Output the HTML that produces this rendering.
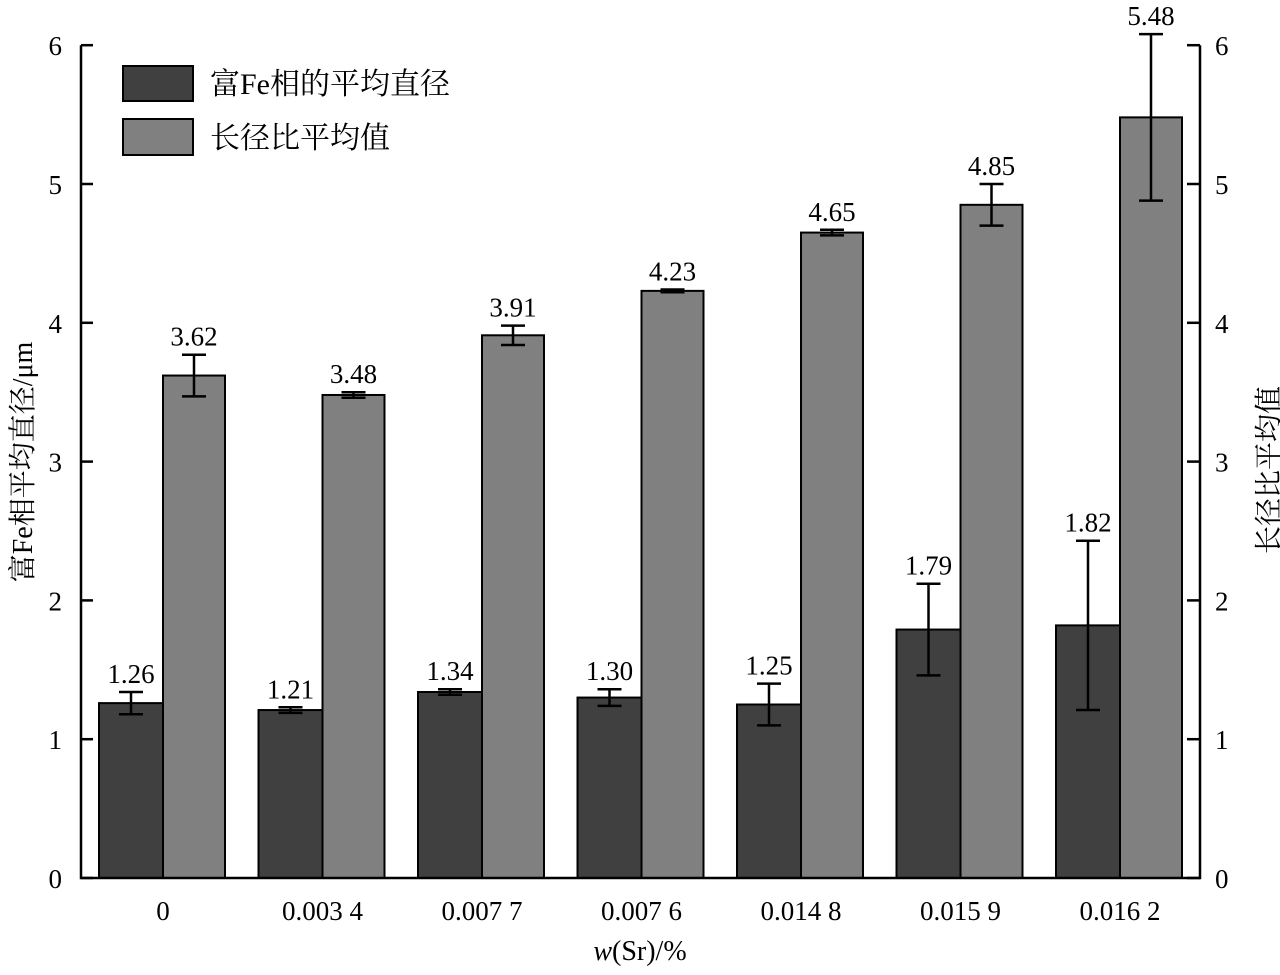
<!DOCTYPE html>
<html><head><meta charset="utf-8"><style>body{margin:0;background:#fff}svg text{font-family:"Liberation Serif","Noto Serif CJK SC",serif;fill:#000}</style></head>
<body>
<svg id="chart" width="1280" height="970" xmlns="http://www.w3.org/2000/svg"></svg>
<script>
const categories=["0","0.003 4","0.007 7","0.007 6","0.014 8","0.015 9","0.016 2"];
const diameter=[1.26,1.21,1.34,1.30,1.25,1.79,1.82];
const diameterErr=[0.08,0.02,0.02,0.06,0.15,0.33,0.61];
const diameterLabels=["1.26","1.21","1.34","1.30","1.25","1.79","1.82"];
const ratio=[3.62,3.48,3.91,4.23,4.65,4.85,5.48];
const ratioErr=[0.15,0.02,0.07,0.01,0.02,0.15,0.6];
const ratioLabels=["3.62","3.48","3.91","4.23","4.65","4.85","5.48"];
const ticks=[0,1,2,3,4,5,6];
const svg=document.getElementById('chart');
const NS="http://www.w3.org/2000/svg";
const X0=81,X1=1200,Y0=878,K=138.8;
const y=v=>Y0-v*K;
const gx=i=>99+i*159.5;
function mk(tag,attrs,parent){const e=document.createElementNS(NS,tag);for(const k in attrs)e.setAttribute(k,attrs[k]);(parent||svg).appendChild(e);return e;}
function txt(s,attrs){const e=mk('text',attrs);e.textContent=s;return e;}
// bars
function drawBar(i,v,err,lab,x,w,fill,name){
  const r=mk('rect',{x:x,y:y(v),width:w,height:Y0-y(v),fill:fill,stroke:'#000','stroke-width':2});
  
  
  const cx=x+w/2;
  const g=mk('g',{stroke:'#000','stroke-width':2.5});
  
  
  mk('line',{x1:cx,x2:cx,y1:y(v+err),y2:y(v-err)},g);
  mk('line',{x1:cx-12,x2:cx+12,y1:y(v+err),y2:y(v+err)},g);
  mk('line',{x1:cx-12,x2:cx+12,y1:y(v-err),y2:y(v-err)},g);
  const t=txt(lab,{x:cx,y:y(v+err)-9,'text-anchor':'middle','font-size':27});
  
  
}
categories.forEach((c,i)=>{
  drawBar(i,diameter[i],diameterErr[i],diameterLabels[i],gx(i),64,'#404040','diameter-bar');
  drawBar(i,ratio[i],ratioErr[i],ratioLabels[i],gx(i)+64,62,'#808080','ratio-bar');
  const t=txt(c,{x:gx(i)+64,y:920,'text-anchor':'middle','font-size':27});
  
  
});
// axes
const ax=mk('g',{stroke:'#000','stroke-width':2.5,fill:'none'});


mk('path',{d:`M${X0} ${y(6)} V${Y0} H${X1} V${y(6)}`},ax);
ticks.forEach(v=>{
  mk('line',{x1:X0,x2:X0+12,y1:y(v),y2:y(v)},ax);
  mk('line',{x1:X1-13,x2:X1,y1:y(v),y2:y(v)},ax);
  const a=txt(String(v),{x:62,y:y(v)+10,'text-anchor':'end','font-size':27});
  
  
  const b=txt(String(v),{x:1215,y:y(v)+10,'font-size':27});
  
  
});
</script>
<svg style="position:absolute;left:0;top:0" width="1280" height="970" xmlns="http://www.w3.org/2000/svg">
<text x="640" y="960" text-anchor="middle" font-size="28"><tspan font-style="italic">w</tspan>(Sr)/%</text>
<text transform="translate(32,462) rotate(-90)" text-anchor="middle" font-size="28">富Fe相平均直径/μm</text>
<text transform="translate(1278,470) rotate(-90)" text-anchor="middle" font-size="28">长径比平均值</text>
<g>
<rect x="123" y="66" width="70" height="35" fill="#404040" stroke="#000" stroke-width="2"/>
<text x="210" y="94" font-size="30">富Fe相的平均直径</text>
<rect x="123" y="119" width="70" height="36" fill="#808080" stroke="#000" stroke-width="2"/>
<text x="210" y="148" font-size="30">长径比平均值</text>
</g>
</svg>
</body></html>
